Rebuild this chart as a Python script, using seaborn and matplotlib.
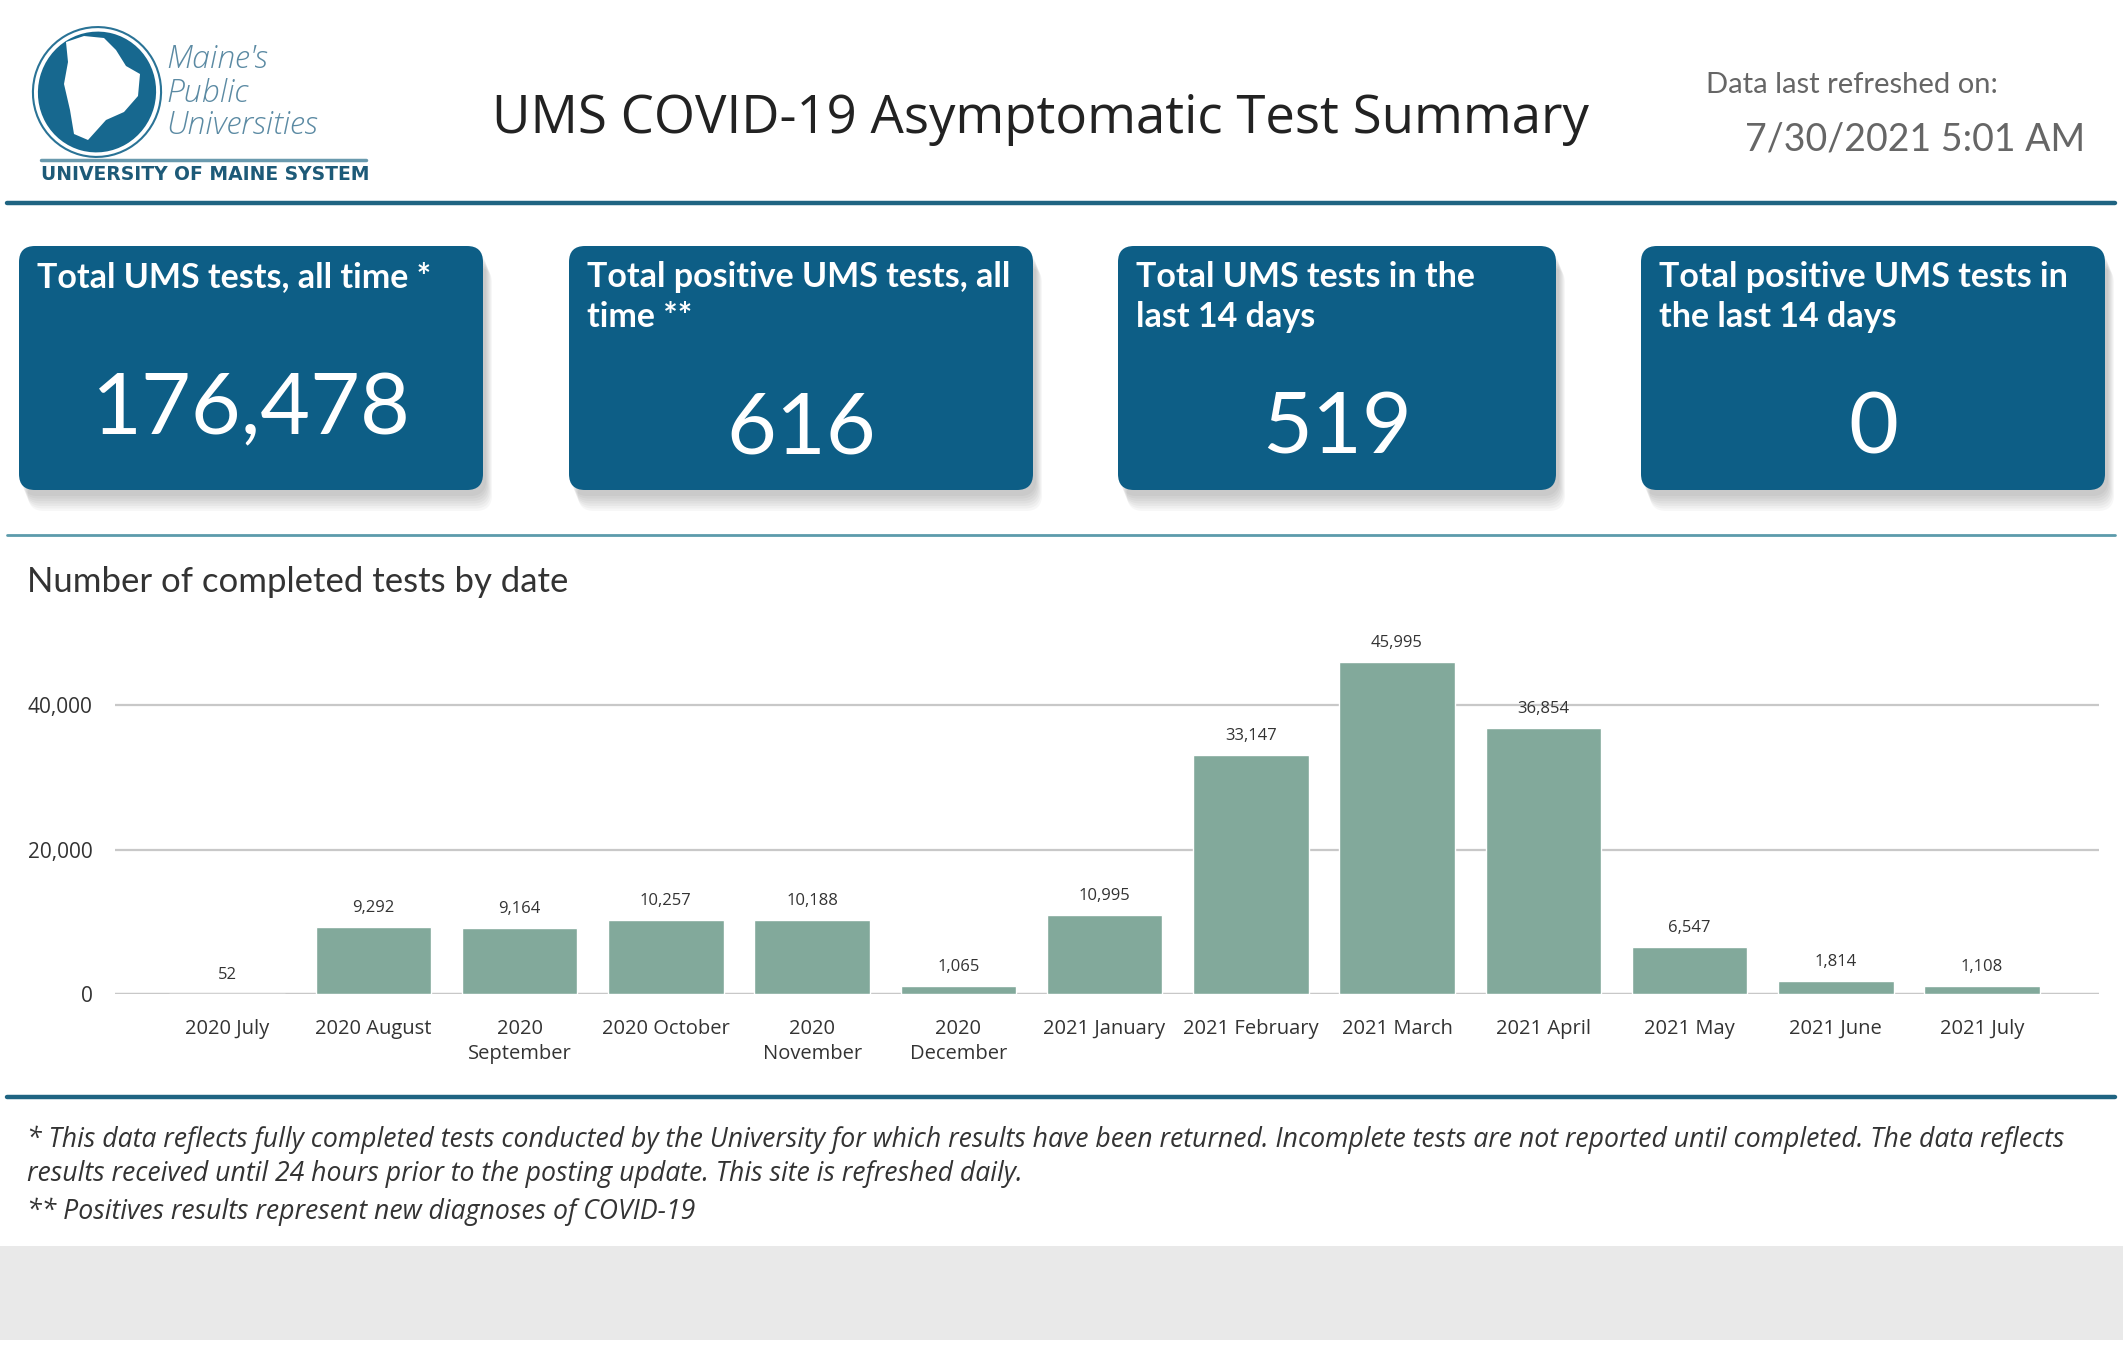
import matplotlib
matplotlib.use("Agg")
import matplotlib.pyplot as plt
import seaborn as sns
import pandas as pd
from matplotlib.patches import FancyBboxPatch, Ellipse, Polygon, Rectangle

# data
months = ["2020 July", "2020 August", "2020\nSeptember", "2020 October", "2020\nNovember",
          "2020\nDecember", "2021 January", "2021 February", "2021 March", "2021 April",
          "2021 May", "2021 June", "2021 July"]
tests = [52, 9292, 9164, 10257, 10188, 1065, 10995, 33147, 45995, 36854, 6547, 1814, 1108]

card_titles = ["Total UMS tests, all time *",
               "Total positive UMS tests, all\ntime **",
               "Total UMS tests in the\nlast 14 days",
               "Total positive UMS tests in\nthe last 14 days"]
card_values = ["176,478", "616", "519", "0"]

footnotes = ["* This data reflects fully completed tests conducted by the University for which results have been returned. "
             "Incomplete tests are not reported until completed. The data reflects",
             "results received until 24 hours prior to the posting update. This site is refreshed daily.",
             "** Positives results represent new diagnoses of COVID-19"]

sns.set_theme(style="white")
plt.rcParams['font.family'] = ['Open Sans', 'DejaVu Sans']

CARD = "#0d5e86"
TEAL = "#1f6482"
BAR = "#82a99b"

fig = plt.figure(figsize=(21.23, 13.5), dpi=100)
fig.patch.set_facecolor("white")

# background layer in pixel units
bg = fig.add_axes([0, 0, 1, 1])
bg.set_xlim(0, 2123)
bg.set_ylim(1350, 0)
bg.axis("off")

# logo
bg.add_patch(Ellipse((97, 92), 128, 130, angle=15, facecolor="none", edgecolor="#2a7396", lw=1.5))
bg.add_patch(Ellipse((97, 92), 118, 121, angle=15, facecolor="#17688f", edgecolor="none"))
maine = [(66, 42), (84, 36), (104, 38), (116, 50), (126, 66), (140, 74), (138, 96),
         (124, 112), (106, 120), (88, 140), (74, 134), (70, 110), (64, 84), (68, 62)]
bg.add_patch(Polygon(maine, closed=True, facecolor="white", edgecolor="none"))
for txt, y in zip(["Maine's", "Public", "Universities"], [60, 93, 126]):
    bg.text(166, y, txt, fontsize=23, style="italic", color="#5b8aa3", va="center",
            family=["Open Sans", "DejaVu Sans"], fontweight="light")
bg.plot([41, 366], [160, 160], color="#6a9aae", lw=2.5)
bg.text(41, 175, "UNIVERSITY OF MAINE SYSTEM", fontsize=13.5, fontweight="bold",
        color="#1d5a78", va="center", family=["DejaVu Sans"])

# header
bg.text(1040, 119, "UMS COVID-19 Asymptomatic Test Summary", fontsize=38, color="#222222",
        ha="center", va="center")
bg.text(1706, 85, "Data last refreshed on:", fontsize=21, color="#666666", va="center",
        family=["Lato", "DejaVu Sans"])
bg.text(2085, 139, "7/30/2021 5:01 AM", fontsize=27, color="#666666", va="center", ha="right",
        family=["Lato", "DejaVu Sans"])
bg.plot([7, 2115], [203, 203], color=TEAL, lw=3.2)

# KPI cards
card_x = [(19, 483), (569, 1033), (1118, 1556), (1641, 2105)]
value_y = [410, 429, 429, 429]
for (x0, x1), title, val, vy in zip(card_x, card_titles, card_values, value_y):
    for k in range(7):
        bg.add_patch(FancyBboxPatch((x0 + 3 + k, 252 + 2.5 * k), x1 - x0, 244,
                                    boxstyle="round,pad=0,rounding_size=16",
                                    facecolor="#000000", alpha=0.03, edgecolor="none"))
    bg.add_patch(FancyBboxPatch((x0, 246), x1 - x0, 244, boxstyle="round,pad=0,rounding_size=16",
                                facecolor=CARD, edgecolor="none"))
    bg.text(x0 + 18, 261, title, fontsize=24.5, fontweight="bold", color="white", va="top",
            linespacing=1.3, family=["Lato", "DejaVu Sans"])
    bg.text((x0 + x1) / 2, vy, val, fontsize=62, color="white", ha="center", va="center",
            family=["Lato", "DejaVu Sans"])

bg.plot([7, 2115], [535, 535], color="#5c9bab", lw=2)
bg.text(27, 582, "Number of completed tests by date", fontsize=25, color="#333333", va="center",
        family=["Lato", "DejaVu Sans"])

bg.plot([7, 2115], [1097, 1097], color=TEAL, lw=3.2)
for txt, y in zip(footnotes, [1140, 1174, 1212]):
    bg.text(27, y, txt, fontsize=19.2, style="italic", color="#333333", va="center")
bg.add_patch(Rectangle((0, 1246), 2123, 94, facecolor="#e9e9e9", edgecolor="none"))

# bar chart
df = pd.DataFrame({"month": months, "tests": tests})
ax = fig.add_axes([0.0542, 0.2637, 0.9345, 0.2674])
ax.patch.set_alpha(0)
sns.barplot(data=df, x="month", y="tests", color=BAR, saturation=1, width=0.79, ax=ax)
ax.bar_label(ax.containers[0], labels=[f"{v:,}" for v in tests], padding=8, fontsize=12,
             color="#333333")
ax.set_xlim(-0.766, 12.8)
ax.set_ylim(0, 50000)
ax.set_yticks([0, 20000, 40000])
ax.set_yticklabels(["0", "20,000", "40,000"])
ax.yaxis.grid(True, color="#c8c8c8", lw=1.6)
ax.set_axisbelow(True)
ax.axhline(0, color="#c8c8c8", lw=1.6, zorder=0)
ax.tick_params(axis="y", length=0, pad=16, labelsize=15, labelcolor="#333333")
ax.tick_params(axis="x", length=0, pad=18, labelsize=14.5, labelcolor="#333333")
for lab in ax.get_xticklabels():
    lab.set_linespacing(1.35)
ax.set_xlabel("")
ax.set_ylabel("")
sns.despine(ax=ax, left=True, bottom=True)

fig.savefig("out.png", dpi=100, facecolor="white")
